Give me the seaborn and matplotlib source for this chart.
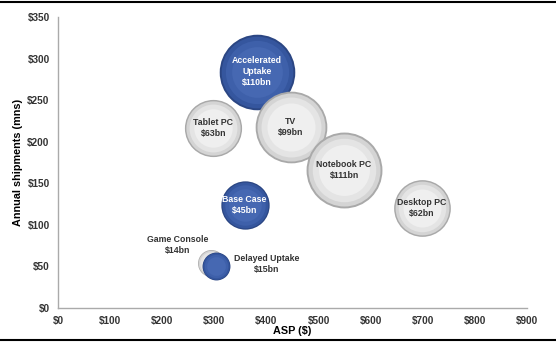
import matplotlib
matplotlib.use("Agg")
import matplotlib.pyplot as plt
from matplotlib.lines import Line2D
import seaborn as sns
import pandas as pd

# Market segments: average selling price, annual shipments and revenue
names = ["Accelerated\nUptake", "Tablet PC", "TV", "Notebook PC", "Desktop PC",
         "Base Case", "Game Console", "Delayed Uptake"]
asp = [382, 298, 447, 549, 698, 358, 294, 304]
shipments = [284, 217, 218, 166, 120, 124, 54, 51]
revenue = [110, 63, 99, 111, 62, 45, 14, 15]
kind = ["scenario", "device", "device", "device", "device",
        "scenario", "device", "scenario"]

x_ticks = list(range(0, 901, 100))
y_ticks = list(range(0, 351, 50))

df = pd.DataFrame({"name": names, "asp": asp, "shipments": shipments,
                   "revenue": revenue, "kind": kind})

sns.set_theme(style="white")
plt.rcParams["font.family"] = ["Liberation Sans", "DejaVu Sans"]

fig = plt.figure(figsize=(5.56, 3.43), dpi=100)
ax = fig.add_axes([58 / 556, 35 / 343, 469 / 556, 291 / 343])

# bubble area proportional to revenue
AREA = 26.9
layers = [
    (1.00, {"device": "#A9A9A9", "scenario": "#2B4683"}),
    (0.90, {"device": "#D4D4D4", "scenario": "#35569E"}),
    (0.70, {"device": "#E4E4E4", "scenario": "#3E60AA"}),
    (0.45, {"device": "#EFEFEF", "scenario": "#4668B2"}),
]
draw_order = [6, 7, 0, 1, 2, 3, 4, 5]
for i in draw_order:
    row = df.iloc[[i]]
    for frac, pal in layers:
        sns.scatterplot(data=row, x="asp", y="shipments", hue="kind",
                        palette=pal, size="revenue",
                        sizes={r: AREA * frac * r for r in row["revenue"]},
                        linewidth=0, legend=False, ax=ax, zorder=3)

# labels
for i, r in df.iterrows():
    label = f"{r['name']}\n${r['revenue']}bn"
    white = r["kind"] == "scenario" and r["name"] != "Delayed Uptake"
    color = "white" if white else "#333333"
    offset = (0, 0)
    if r["name"] == "Delayed Uptake":
        offset = (36, 1)
    elif r["name"] == "Game Console":
        offset = (-24, 13)
    ax.annotate(label, (r["asp"], r["shipments"]), xytext=offset,
                textcoords="offset points", ha="center", va="center",
                fontsize=6.3, fontweight="bold", color=color,
                linespacing=1.3, zorder=5)

ax.set_xlim(0, 900)
ax.set_ylim(0, 350)
ax.set_xticks(x_ticks)
ax.set_yticks(y_ticks)
ax.set_xticklabels([f"${v}" for v in x_ticks])
ax.set_yticklabels([f"${v}" for v in y_ticks])
ax.tick_params(axis="x", direction="in", length=3, width=0.8, color="#AAAAAA",
               labelsize=7.2, labelcolor="#333333", pad=6)
ax.tick_params(axis="y", direction="out", length=3, width=0.8, color="#AAAAAA",
               labelsize=7.2, labelcolor="#333333", pad=3)
for lab in ax.get_xticklabels() + ax.get_yticklabels():
    lab.set_fontweight("bold")

sns.despine(ax=ax)
for side in ("left", "bottom"):
    ax.spines[side].set_color("#AAAAAA")
    ax.spines[side].set_linewidth(1.0)

ax.set_xlabel("ASP ($)", fontsize=7.8, fontweight="bold", color="black", labelpad=0)
ax.set_ylabel("Annual shipments (mns)", fontsize=7.8, fontweight="bold",
              color="black", labelpad=3)

# frame lines across top and bottom
fig.add_artist(Line2D([0, 1], [1 - 1.5 / 343, 1 - 1.5 / 343], color="black",
                      linewidth=1.5, transform=fig.transFigure))
fig.add_artist(Line2D([0, 1], [3.5 / 343, 3.5 / 343], color="black",
                      linewidth=1.5, transform=fig.transFigure))

fig.savefig("out.png", dpi=100)
